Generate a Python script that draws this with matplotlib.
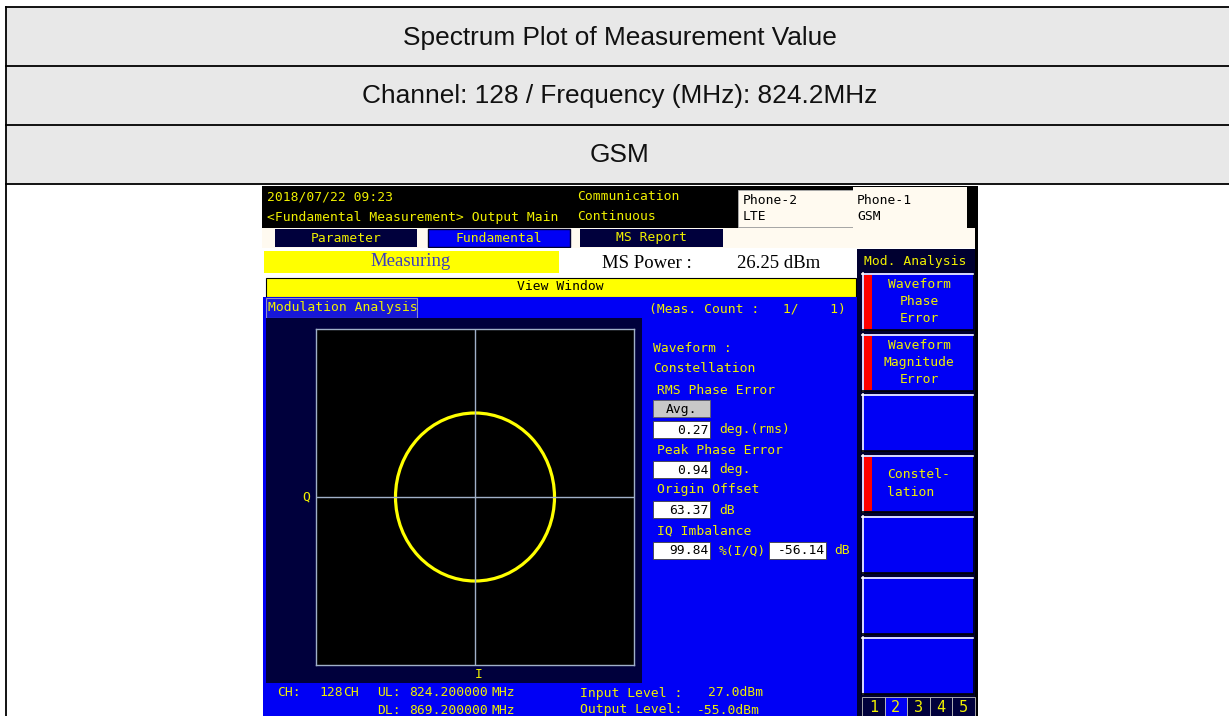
import numpy as np
import matplotlib.pyplot as plt
from matplotlib.patches import Rectangle, Circle

# report table rows
header_rows = ["Spectrum Plot of Measurement Value",
               "Channel: 128 / Frequency (MHz): 824.2MHz",
               "GSM"]

# instrument screen readings
timestamp = "2018/07/22 09:23"
screen_title = "<Fundamental Measurement> Output Main"
comm_mode = ["Communication", "Continuous"]
phones = [("Phone-2", "LTE"), ("Phone-1", "GSM")]
tabs = ["Parameter", "Fundamental", "MS Report"]
active_tab = "Fundamental"
ms_power = "26.25"
meas_count = (1, 1)
rms_phase_error = "0.27"
peak_phase_error = "0.94"
origin_offset = "63.37"
iq_imbalance_pct = "99.84"
iq_imbalance_db = "-56.14"
softkeys = ["Waveform\nPhase\nError", "Waveform\nMagnitude\nError", "",
            "Constel-\nlation", "", "", ""]
softkey_marked = [True, True, False, True, False, False, False]
pages = ["1", "2", "3", "4", "5"]
active_page = "2"
channel = "128"
ul_freq = "824.200000"
dl_freq = "869.200000"
input_level = "27.0"
output_level = "-55.0"

# constellation trace: normalised I/Q amplitude of the GMSK circle
constellation_radius = 0.5

W, H = 1229, 716
NAVY = '#00003c'
BLUE = '#0000f5'
YEL = '#f0f000'
CREAM = '#fffaf0'
MONO = 'DejaVu Sans Mono'
SERIF = 'Liberation Serif'
FS = 9.4

fig = plt.figure(figsize=(W / 100, H / 100), dpi=100)
ax = fig.add_axes([0, 0, 1, 1])
ax.set_xlim(0, W)
ax.set_ylim(H, 0)
ax.axis('off')


def rect(x0, y0, x1, y1, fc, ec='none', lw=0):
    ax.add_patch(Rectangle((x0, y0), x1 - x0, y1 - y0, fc=fc, ec=ec, lw=lw))


def txt(x, y, s, color=YEL, ha='left', size=FS, family=MONO):
    ax.text(x, y, s, color=color, ha=ha, va='center', fontsize=size, family=family)


# ---- report table ----
row_edges = [7, 66, 125, 184]
for i, label in enumerate(header_rows):
    rect(6, row_edges[i], W, row_edges[i + 1], '#e8e8e8')
    ax.text(619.5, (row_edges[i] + row_edges[i + 1]) / 2 + 1, label, ha='center', va='center',
            fontsize=18.9, family='Liberation Sans', color='#111111')
for y in row_edges:
    ax.plot([6, W], [y, y], color='black', lw=1.3)
ax.plot([6, 6], [7, H], color='black', lw=1.3)

# ---- instrument screen ----
# header
rect(262, 186, 978, 228, 'black')
txt(267, 197, timestamp)
txt(267, 217, screen_title)
txt(577, 197, comm_mode[0])
txt(577, 217, comm_mode[1])

# tab row
rect(262, 228, 978, 248, CREAM)
tab_x = [(275, 417), (428, 570), (580, 723)]
for (x0, x1), t in zip(tab_x, tabs):
    if t == active_tab:
        rect(x0, 229, x1, 247, BLUE, ec='#000030', lw=1.0)
    else:
        rect(x0, 229, x1, 247, NAVY)
    txt((x0 + x1) / 2, 238, t, ha='center')

# phone boxes
rect(738, 190, 853, 227, CREAM, ec='#b0b0b0', lw=0.6)
rect(853, 187, 967, 247, CREAM)
rect(967, 186, 978, 228, 'black')
for (name, system), x in zip(phones, [743, 857]):
    txt(x, 200, name, color='black')
    txt(x, 217, system, color='black')

# measuring row
rect(262, 248, 858, 297, 'white')
rect(264, 251, 559, 273, '#ffff00')
txt(411, 262, "Measuring", color='#3c3cc0', ha='center', size=13.5, family=SERIF)
txt(602, 263, "MS Power :", color='black', size=13.5, family=SERIF)
txt(737, 263, f"{ms_power} dBm", color='black', size=13.5, family=SERIF)

rect(266, 278, 856, 297, '#ffff00', ec='black', lw=0.8)
txt(560, 287, "View Window", color='black', ha='center')

# main blue panel
rect(263, 297, 857, H, BLUE)
rect(266, 298, 417, 318, '#1818d8', ec='#9090c0', lw=0.8)
txt(268, 308, "Modulation Analysis")
txt(649, 309, f"(Meas. Count :   {meas_count[0]}/    {meas_count[1]})")
rect(266, 318, 642, 683, NAVY)
txt(302, 497, "Q")
txt(479, 675, "I", ha='center')

# readout column
txt(653, 349, "Waveform :")
txt(653, 369, "Constellation")
txt(657, 390, "RMS Phase Error")
rect(653, 400, 710, 417, '#c8c8c8', ec='#606060', lw=0.6)
txt(682, 409, "Avg.", color='black', ha='center')

readouts = [(421, rms_phase_error, "deg.(rms)", "Peak Phase Error", 450),
            (461, peak_phase_error, "deg.", "Origin Offset", 490),
            (501, origin_offset, "dB", "IQ Imbalance", 531),
            (542, iq_imbalance_pct, "%(I/Q)", None, None)]
for y0, val, unit, next_label, next_y in readouts:
    rect(653, y0, 710, y0 + 17, 'white', ec='#404040', lw=0.6)
    txt(709, y0 + 9, val, color='black', ha='right')
    txt(719, y0 + 9, unit)
    if next_label:
        txt(657, next_y, next_label)
rect(769, 542, 826, 559, 'white', ec='#404040', lw=0.6)
txt(825, 551, iq_imbalance_db, color='black', ha='right')
txt(834, 551, "dB")

# status rows
txt(277, 693, "CH:")
txt(319, 693, channel)
txt(343, 693, "CH")
txt(377, 693, "UL:")
txt(409, 693, ul_freq)
txt(491, 693, "MHz")
txt(377, 710, "DL:")
txt(409, 710, dl_freq)
txt(491, 710, "MHz")
txt(580, 693, "Input Level :")
txt(708, 693, f"{input_level}dBm")
txt(580, 710, "Output Level:")
txt(697, 710, f"{output_level}dBm")

# softkey column
rect(857, 249, 978, H, '#000030')
rect(975, 186, 978, H, 'black')
txt(915, 261, "Mod. Analysis", ha='center')
key_tops = [273, 334, 394, 455, 516, 577, 637]
for top, label, marked in zip(key_tops, softkeys, softkey_marked):
    bot = top + 57
    rect(862, top, 973, bot, BLUE)
    ax.plot([862, 973], [top + 0.5, top + 0.5], color='white', lw=1.2)
    ax.plot([862.5, 862.5], [top, bot], color='white', lw=1.2)
    ax.plot([862, 973], [bot, bot], color='black', lw=1.2)
    if marked:
        rect(864, top + 2, 872, bot - 1, '#ff0000')
    lines = label.split('\n') if label else []
    n = len(lines)
    for j, line in enumerate(lines):
        yy = (top + bot) / 2 + (j - (n - 1) / 2) * 17
        if label.startswith("Constel"):
            txt(887, yy, line)
        else:
            txt(919, yy, line, ha='center')

cell_w = (975 - 862) / len(pages)
for k, p in enumerate(pages):
    x0 = 862 + k * cell_w
    rect(x0, 697, x0 + cell_w, H, BLUE if p == active_page else NAVY, ec='#c0c0c0', lw=0.6)
    txt(x0 + cell_w / 2, 707, p, ha='center', size=11)

# constellation plot
cax = fig.add_axes([316 / W, 1 - 665 / H, 318 / W, 336 / H])
cax.set_facecolor('black')
cax.set_xlim(-1, 1)
cax.set_ylim(-1, 1)
cax.set_xticks([])
cax.set_yticks([])
for s in cax.spines.values():
    s.set_color('#a0b0c8')
    s.set_linewidth(1.0)
cax.axhline(0, color='#a0b0c8', lw=1.0)
cax.axvline(0, color='#a0b0c8', lw=1.0)
cax.add_patch(Circle((0, 0), constellation_radius, fill=False, ec='#ffff00', lw=2.3))

fig.savefig('out.png', dpi=100)
